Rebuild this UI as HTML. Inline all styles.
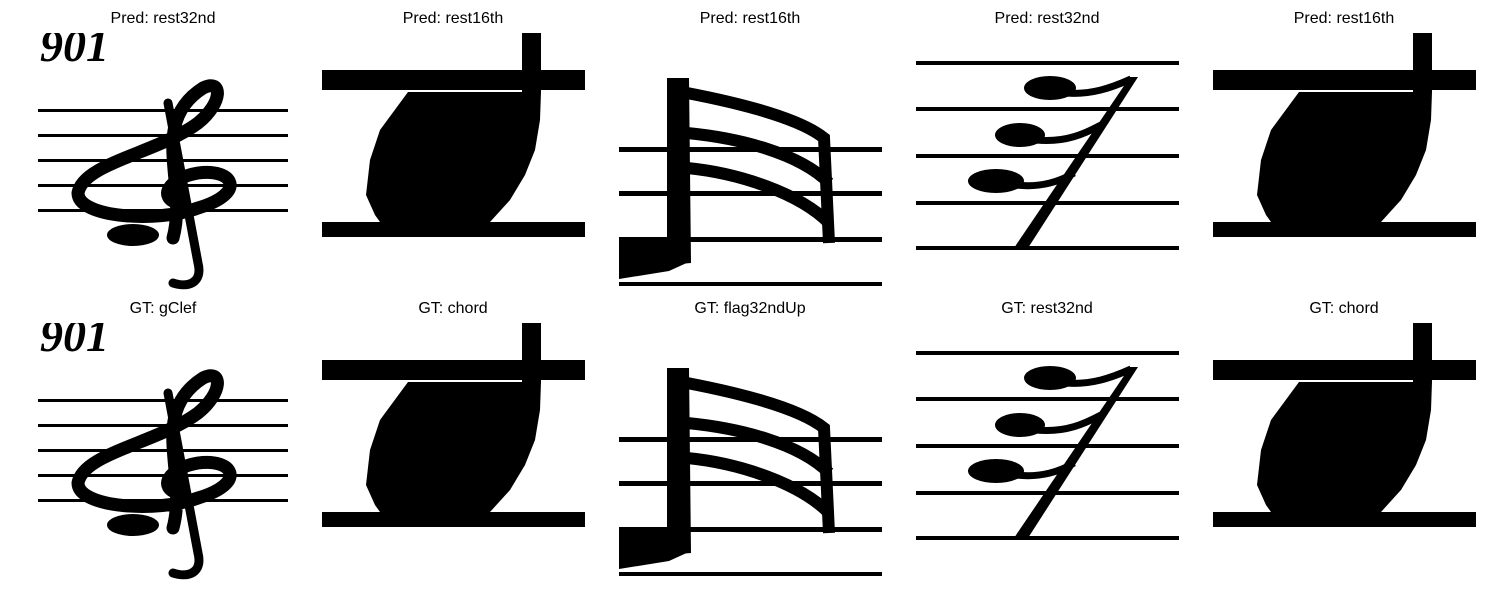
<!DOCTYPE html>
<html><head><meta charset="utf-8"><style>
html,body{margin:0;padding:0;background:#fff;width:1500px;height:600px;overflow:hidden}
svg{display:block}
.lbl{font-family:"Liberation Sans",sans-serif}
</style></head><body>
<svg width="1500" height="600" viewBox="0 0 1500 600">
<defs>
 <clipPath id="c1"><rect x="0" y="0" width="250" height="263"/></clipPath>
 <clipPath id="c2"><rect x="0" y="0" width="263" height="263"/></clipPath>
 <g id="p1">
  <text x="2" y="28" style="font-family:'Liberation Serif',serif;font-style:italic;font-weight:bold;font-size:46px" fill="#000">901</text>
  <g fill="#000">
   <rect x="0" y="76" width="250" height="3"/><rect x="0" y="101" width="250" height="3"/>
   <rect x="0" y="126" width="250" height="3"/><rect x="0" y="151" width="250" height="3"/>
   <rect x="0" y="176" width="250" height="3"/>
  </g>
  <g fill="none" stroke="#000" stroke-linecap="round">
   <path d="M135,205 C150,150 110,90 165,55 C185,45 185,70 160,90 C120,120 45,130 40,160 C40,185 120,190 160,175 C210,160 195,135 160,140 C130,145 120,165 140,170" stroke-width="13"/>
   <path d="M130,70 L160,230 C165,250 150,255 135,250" stroke-width="9"/>
  </g>
  <ellipse cx="95" cy="202" rx="26" ry="11" fill="#000"/>
 </g>
 <g id="p2">
  <rect x="0" y="37" width="263" height="20" fill="#000"/>
  <rect x="0" y="189" width="263" height="15" fill="#000"/>
  <rect x="200" y="0" width="19" height="60" fill="#000"/>
  <polygon fill="#000" points="86,59 58,97 48,127 44,162 53,182 58,189 168,189 188,167 203,142 213,117 218,87 219,59"/>
 </g>
 <g id="p3">
  <g fill="#000">
   <rect x="0" y="114" width="263" height="5"/><rect x="0" y="158" width="263" height="5"/>
   <rect x="0" y="204" width="263" height="5"/><rect x="0" y="249" width="263" height="4"/>
   <polygon points="48,45 70,45 72,230 48,232"/>
   <polygon points="0,207 40,205 62,215 72,228 50,238 0,246"/>
  </g>
  <g fill="none" stroke="#000" stroke-width="12">
   <path d="M68,60 C120,70 180,85 205,105 L210,210"/>
   <path d="M68,100 C120,105 180,120 210,150"/>
   <path d="M68,135 C120,140 180,160 210,190"/>
  </g>
 </g>
 <g id="p4">
  <g fill="#000">
   <rect x="0" y="28" width="263" height="4"/><rect x="0" y="74" width="263" height="4"/>
   <rect x="0" y="121" width="263" height="4"/><rect x="0" y="168" width="263" height="4"/>
   <rect x="0" y="213" width="263" height="4"/>
   <polygon points="214,44 222,44 112,215 98,215"/>
   <ellipse cx="134" cy="55" rx="26" ry="12"/>
   <ellipse cx="104" cy="102" rx="25" ry="12"/>
   <ellipse cx="80" cy="148" rx="28" ry="12"/>
  </g>
  <g fill="none" stroke="#000" stroke-width="7">
   <path d="M150,60 C175,62 195,55 215,46"/>
   <path d="M120,107 C150,110 170,100 185,92"/>
   <path d="M100,152 C125,155 145,148 158,140"/>
  </g>
 </g>
</defs>

<g>
 <g transform="translate(38,33)" clip-path="url(#c1)"><use href="#p1"/></g>
 <g transform="translate(322,33)" clip-path="url(#c2)"><use href="#p2"/></g>
 <g transform="translate(619,33)" clip-path="url(#c2)"><use href="#p3"/></g>
 <g transform="translate(916,33)" clip-path="url(#c2)"><use href="#p4"/></g>
 <g transform="translate(1213,33)" clip-path="url(#c2)"><use href="#p2"/></g>
</g>
<g>
 <g transform="translate(38,323)" clip-path="url(#c1)"><use href="#p1"/></g>
 <g transform="translate(322,323)" clip-path="url(#c2)"><use href="#p2"/></g>
 <g transform="translate(619,323)" clip-path="url(#c2)"><use href="#p3"/></g>
 <g transform="translate(916,323)" clip-path="url(#c2)"><use href="#p4"/></g>
 <g transform="translate(1213,323)" clip-path="url(#c2)"><use href="#p2"/></g>
</g>
<g id="titles"></g>
</svg>
<script>
const predLabels = ["rest32nd","rest16th","rest16th","rest32nd","rest16th"];
const gtLabels = ["gClef","chord","flag32ndUp","rest32nd","chord"];
const colCenters = [163,453,750,1047,1344];
const g = document.getElementById('titles');
const ns = "http://www.w3.org/2000/svg";
for (let i = 0; i < 5; i++) {
  const t1 = document.createElementNS(ns, 'text');
  t1.setAttribute('x', colCenters[i]); t1.setAttribute('y', 23);
  t1.setAttribute('class', 'lbl');
  t1.setAttribute('text-anchor', 'middle'); t1.setAttribute('font-size', '16');
  t1.textContent = 'Pred: ' + predLabels[i];
  
  
  g.appendChild(t1);
  const t2 = document.createElementNS(ns, 'text');
  t2.setAttribute('x', colCenters[i]); t2.setAttribute('y', 313);
  t2.setAttribute('class', 'lbl');
  t2.setAttribute('text-anchor', 'middle'); t2.setAttribute('font-size', '16');
  t2.textContent = 'GT: ' + gtLabels[i];
  
  
  g.appendChild(t2);
}
</script>
</body></html>
